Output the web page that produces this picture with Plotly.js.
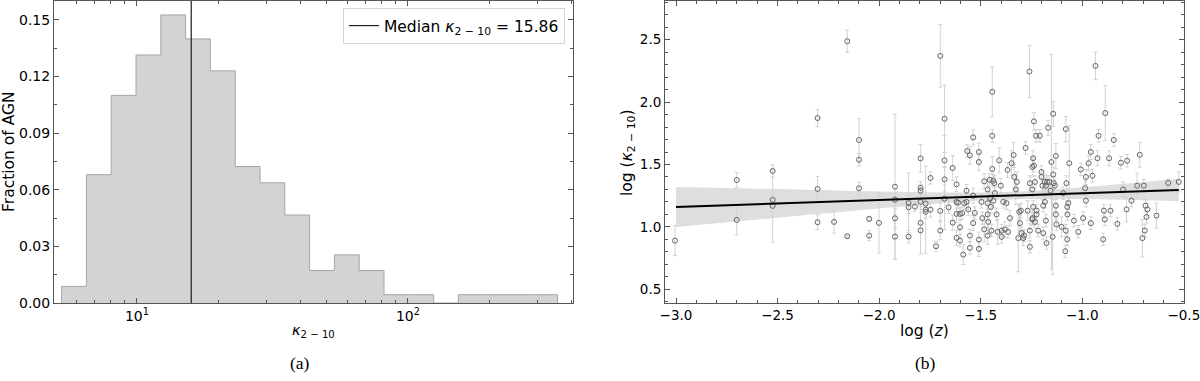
<!DOCTYPE html>
<html>
<head>
<meta charset="utf-8">
<script src="https://cdn.plot.ly/plotly-3.0.1.min.js"></script>
<style>
  html, body { margin: 0; padding: 0; background: #fff; }
  #myDiv { width: 1200px; height: 381px; }
</style>
</head>
<body>
<div id="myDiv"></div>
<script>
// (a) histogram of kappa_2-10, log bins
var binEdges = [5.273, 6.510, 8.037, 9.922, 12.25, 15.12, 18.67, 23.05, 28.46, 35.13, 43.37,
	53.54, 66.10, 81.60, 100.7, 124.4, 153.5, 189.5, 234.0, 288.8, 356.6];
var binFrac = [0.0088, 0.068, 0.110, 0.1314, 0.1526, 0.1399, 0.123, 0.0723, 0.0637, 0.0466,
	0.0172, 0.0255, 0.0172, 0.0044, 0.0044, 0, 0.0044, 0.0044, 0.0044, 0.0044];
var medianK = 15.86;

// (b) log kappa vs log z, with errors
var logZ = [
	-3.005, -2.701, -2.701, -2.524, -2.524, -2.524, -2.303, -2.303, -2.303, -2.222,
	-2.157, -2.157, -2.099, -2.099, -2.099, -2.049, -2.049, -2.001,
	-1.922, -1.922, -1.922, -1.922, -1.855, -1.855, -1.855, -1.824, -1.796, -1.796,
	-1.796, -1.796, -1.796, -1.796, -1.771, -1.771, -1.771, -1.747, -1.747, -1.720,
	-1.699, -1.699, -1.699, -1.678, -1.678, -1.678, -1.678, -1.658, -1.638, -1.638,
	-1.619, -1.619, -1.619, -1.619, -1.602,
	-1.611, -1.602, -1.602, -1.586, -1.591, -1.581, -1.566, -1.553, -1.570, -1.570,
	-1.561, -1.553, -1.553, -1.537, -1.537, -1.537, -1.529, -1.509, -1.509, -1.509,
	-1.509, -1.496, -1.492, -1.483, -1.483, -1.466, -1.466, -1.466, -1.466, -1.463,
	-1.456, -1.453, -1.450, -1.447, -1.443, -1.443, -1.443, -1.438, -1.438, -1.433,
	-1.430, -1.422, -1.417, -1.409, -1.401, -1.397, -1.397, -1.389, -1.381, -1.373,
	-1.368, -1.365, -1.356, -1.348, -1.338, -1.335, -1.327, -1.322, -1.315, -1.310,
	-1.307, -1.302, -1.299, -1.291, -1.286, -1.279, -1.269, -1.260, -1.258, -1.258,
	-1.258, -1.246, -1.238, -1.242, -1.246, -1.246,
	-1.228, -1.209, -1.238, -1.233, -1.201, -1.201, -1.196, -1.184, -1.179, -1.168,
	-1.152, -1.173, -1.163, -1.156, -1.184, -1.192, -1.225, -1.242, -1.245, -1.233,
	-1.225, -1.217, -1.192, -1.176, -1.179, -1.146, -1.143, -1.143, -1.140, -1.135,
	-1.130, -1.130, -1.130, -1.127, -1.102, -1.094, -1.081, -1.081, -1.084, -1.078,
	-1.074, -1.069, -1.073, -1.074, -1.064, -1.041, -1.020, -1.007, -0.996, -0.986,
	-0.982, -0.982, -0.969, -0.958, -0.958, -0.950, -0.935, -0.925, -0.920, -0.897,
	-0.894, -0.887, -0.868,
	-0.845, -0.861, -0.889, -0.827, -0.810, -0.779, -0.799, -0.782, -0.758, -0.730,
	-0.717, -0.697, -0.689, -0.679, -0.684, -0.692, -0.704, -0.635, -0.577, -0.525
];
var logK = [
	0.890, 1.376, 1.056, 1.448, 1.216, 1.168, 1.872, 1.304, 1.037, 1.040,
	2.488, 0.925, 1.696, 1.538, 1.309, 1.064, 0.930, 1.032,
	1.322, 1.218, 1.069, 0.922, 1.192, 1.157, 0.922, 1.162, 1.549, 1.312,
	1.290, 1.200, 1.032, 0.973, 1.138, 1.186, 1.120, 1.392, 1.138, 0.845,
	2.370, 1.128, 0.970, 1.866, 1.533, 1.381, 1.226, 1.157, 1.472, 1.034,
	1.341, 1.200, 1.104, 0.912, 0.890,
	1.194, 1.104, 0.997, 0.778, 1.110, 1.190, 1.608, 1.573, 1.290, 1.200,
	1.140, 0.930, 0.832, 1.717, 1.250, 1.030, 1.112, 1.600, 1.520, 0.898,
	0.824, 1.200, 1.070, 1.365, 0.980, 1.300, 1.190, 1.100, 0.930, 1.040,
	1.378, 1.230, 1.160, 0.970, 2.082, 1.730, 1.464, 1.370, 1.210, 1.350,
	1.270, 1.100, 0.960, 1.533, 1.330, 0.970, 0.920, 1.200, 0.980, 1.190,
	1.456, 0.960, 1.070, 1.510, 1.576, 1.400, 1.300, 1.360, 0.910, 1.120,
	1.030, 1.130, 0.950, 0.910, 0.930, 1.632, 1.130, 2.245, 1.350, 0.970,
	0.840, 1.480, 1.845, 1.550, 1.300, 1.060,
	1.730, 1.730, 1.490, 1.360, 1.440, 1.400, 1.330, 1.360, 1.330, 1.794,
	1.520, 1.360, 1.360, 1.290, 1.200, 1.170, 1.130, 1.160, 1.070, 1.040,
	1.100, 0.970, 0.950, 0.870, 1.050, 0.920, 1.906, 1.420, 1.350, 1.330,
	1.568, 1.170, 1.100, 1.020, 1.000, 1.270, 1.784, 0.970, 0.805, 1.350,
	1.160, 1.190, 1.100, 0.900, 1.510, 1.050, 0.960, 1.460, 1.070, 1.310,
	1.400, 1.210, 1.510, 1.600, 1.030, 1.410, 2.290, 1.550, 1.730, 0.900,
	1.130, 1.912, 1.550,
	1.696, 1.130, 1.060, 1.024, 1.514, 1.530, 1.300, 1.140, 1.210, 1.330,
	1.578, 1.330, 1.170, 1.140, 1.080, 0.970, 0.910, 1.090, 1.352, 1.360
];
var logKErr = [
	0.12, 0.06, 0.12, 0.05, 0.03, 0.29, 0.07, 0.10, 0.06, 0.09,
	0.09, 0.01, 0.17, 0.05, 0.05, 0.02, 0.04, 0.24,
	0.58, 0.05, 0.08, 0.18, 0.24, 0.05, 0.05, 0.04, 0.11, 0.05,
	0.05, 0.06, 0.08, 0.19, 0.35, 0.05, 0.05, 0.05, 0.06, 0.04,
	0.25, 0.08, 0.07, 0.27, 0.20, 0.10, 0.25, 0.05, 0.10, 0.06,
	0.06, 0.05, 0.07, 0.06, 0.05,
	0.05, 0.05, 0.06, 0.08, 0.05, 0.05, 0.05, 0.07, 0.05, 0.06,
	0.05, 0.05, 0.05, 0.06, 0.06, 0.06, 0.05, 0.07, 0.07, 0.06,
	0.06, 0.05, 0.05, 0.06, 0.10, 0.08, 0.05, 0.05, 0.07, 0.10,
	0.05, 0.05, 0.05, 0.05, 0.20, 0.05, 0.10, 0.05, 0.05, 0.06,
	0.05, 0.05, 0.10, 0.10, 0.06, 0.05, 0.05, 0.05, 0.06, 0.05,
	0.06, 0.05, 0.06, 0.10, 0.10, 0.10, 0.12, 0.08, 0.27, 0.06,
	0.06, 0.06, 0.05, 0.06, 0.05, 0.05, 0.08, 0.21, 0.06, 0.06,
	0.05, 0.08, 0.07, 0.06, 0.06, 0.05,
	0.05, 0.05, 0.05, 0.05, 0.05, 0.05, 0.05, 0.06, 0.06, 0.06,
	0.86, 0.05, 0.05, 0.05, 0.05, 0.05, 0.05, 0.05, 0.05, 0.05,
	0.05, 0.05, 0.05, 0.05, 0.05, 0.30, 0.10, 0.06, 0.05, 0.05,
	0.10, 0.05, 0.05, 0.05, 0.08, 0.05, 0.10, 0.05, 0.05, 0.06,
	0.05, 0.05, 0.05, 0.05, 0.30, 0.05, 0.05, 0.05, 0.05, 0.06,
	0.06, 0.05, 0.06, 0.06, 0.05, 0.05, 0.11, 0.06, 0.05, 0.05,
	0.05, 0.22, 0.06,
	0.05, 0.05, 0.05, 0.05, 0.05, 0.05, 0.06, 0.10, 0.05, 0.10,
	0.10, 0.05, 0.05, 0.05, 0.05, 0.05, 0.15, 0.10, 0.03, 0.08
];

// linear fit and its confidence band
var fitZ = [-3.0, -0.525];
var fitK = [1.16, 1.296];
var bandZ = [-3.0, -2.5, -2.0, -1.75, -1.5, -1.25, -1.0, -0.75, -0.525];
var bandLo = [1.000, 1.073, 1.147, 1.181, 1.211, 1.223, 1.222, 1.216, 1.206];
var bandHi = [1.320, 1.303, 1.283, 1.277, 1.275, 1.289, 1.318, 1.352, 1.386];

// step outline for the histogram
var stepX = [binEdges[0]];
var stepY = [0];
for (var i = 0; i < binFrac.length; i++) {
	stepX.push(binEdges[i]);
	stepY.push(binFrac[i]);
}
stepX.push(binEdges[binEdges.length - 1]);
stepY.push(0);

var spine = '#555555';
var sans = 'DejaVu Sans, sans-serif';

var histTrace = {
	x: stepX, y: stepY,
	type: 'scatter', mode: 'lines',
	line: {shape: 'hv', color: '#a6a6a6', width: 1},
	fill: 'tozeroy', fillcolor: '#d3d3d3',
	showlegend: false, hoverinfo: 'skip'
};

var medianTrace = {
	x: [medianK, medianK], y: [0, 0.16],
	type: 'scatter', mode: 'lines',
	line: {color: '#1a1a1a', width: 1.2},
	name: 'Median <i>κ</i><sub>2 − 10</sub> = 15.86'
};

var bandLow = {
	x: bandZ, y: bandLo, xaxis: 'x2', yaxis: 'y2',
	type: 'scatter', mode: 'lines', line: {width: 0, shape: 'spline'},
	showlegend: false, hoverinfo: 'skip'
};
var bandHigh = {
	x: bandZ, y: bandHi, xaxis: 'x2', yaxis: 'y2',
	type: 'scatter', mode: 'lines', line: {width: 0, shape: 'spline'},
	fill: 'tonexty', fillcolor: '#dedede',
	showlegend: false, hoverinfo: 'skip'
};

var points = {
	x: logZ, y: logK, xaxis: 'x2', yaxis: 'y2',
	type: 'scatter', mode: 'markers',
	marker: {symbol: 'circle-open', size: 5, color: '#666666', line: {width: 1}},
	error_y: {type: 'data', array: logKErr, visible: true, color: '#d2d2d2', thickness: 1, width: 2},
	showlegend: false
};

var fitLine = {
	x: fitZ, y: fitK, xaxis: 'x2', yaxis: 'y2',
	type: 'scatter', mode: 'lines',
	line: {color: 'black', width: 2},
	showlegend: false
};

var data = [histTrace, medianTrace, bandLow, bandHigh, points, fitLine];

var baseAxis = {
	showline: true, linecolor: spine, linewidth: 1, mirror: 'ticks',
	ticks: 'inside', ticklen: 5, tickwidth: 1, tickcolor: spine,
	showgrid: false, zeroline: false, ticklabeloverflow: 'allow',
	tickfont: {family: sans, size: 14, color: 'black'}
};

function axis(extra) {
	return Object.assign({}, baseAxis, extra);
}

function label(text, x, y, size, angle, family) {
	return {
		text: text, xref: 'paper', yref: 'paper', x: x, y: y,
		xanchor: 'center', yanchor: 'middle', textangle: angle || 0,
		showarrow: false, font: {family: family || sans, size: size, color: 'black'}
	};
}

var layout = {
	width: 1200, height: 381,
	margin: {l: 0, r: 0, t: 0, b: 0},
	paper_bgcolor: 'white', plot_bgcolor: 'white',
	font: {family: sans, color: 'black'},
	xaxis: axis({
		type: 'log', range: [0.694, 2.609], domain: [0.045, 0.4775], anchor: 'y',
		tickvals: [10, 100], ticktext: ['10<sup>1</sup>', '10<sup>2</sup>'],
		minor: {ticks: 'inside', ticklen: 3, tickcolor: spine,
			tickvals: [6, 7, 8, 9, 20, 30, 40, 50, 60, 70, 80, 90, 200, 300, 400]}
	}),
	yaxis: axis({
		range: [0, 0.16], domain: [0.2047, 0.9974], anchor: 'x',
		tickvals: [0, 0.03, 0.06, 0.09, 0.12, 0.15], tickformat: '.2f',
		minor: {ticks: 'inside', ticklen: 3, tickcolor: spine, dtick: 0.015}
	}),
	xaxis2: axis({
		range: [-3.054, -0.499], domain: [0.5542, 0.9867], anchor: 'y2',
		tickvals: [-3.0, -2.5, -2.0, -1.5, -1.0, -0.5], tickformat: '.1f',
		tickfont: {family: sans, size: 13.5, color: 'black'},
		minor: {ticks: 'inside', ticklen: 3, tickcolor: spine, dtick: 0.1, tick0: 0}
	}),
	yaxis2: axis({
		range: [0.39, 2.81], domain: [0.2047, 0.9974], anchor: 'x2',
		dtick: 0.5, tick0: 0, tickformat: '.1f',
		tickfont: {family: sans, size: 13.5, color: 'black'},
		minor: {ticks: 'inside', ticklen: 3, tickcolor: spine, dtick: 0.1, tick0: 0}
	}),
	showlegend: true,
	legend: {
		x: 0.4708, xanchor: 'right', y: 0.979, yanchor: 'top',
		bgcolor: 'white', bordercolor: '#d6d6d6', borderwidth: 1,
		font: {family: sans, size: 15.5, color: 'black'}
	},
	annotations: [
		label('Fraction of AGN', 0.0075, 0.601, 15.5, -90),
		label('<i>κ</i><sub>2 − 10</sub>', 0.2613, 0.131, 14.5),
		label('log (<i>κ</i><sub>2 − 10</sub>)', 0.5233, 0.601, 15.5, -90),
		label('log (<i>z</i>)', 0.7704, 0.131, 15.5),
		label('(a)', 0.25, 0.047, 17.5, 0, 'Liberation Serif, serif'),
		label('(b)', 0.771, 0.047, 17.5, 0, 'Liberation Serif, serif')
	]
};

Plotly.newPlot('myDiv', data, layout, {staticPlot: true});
</script>
</body>
</html>
